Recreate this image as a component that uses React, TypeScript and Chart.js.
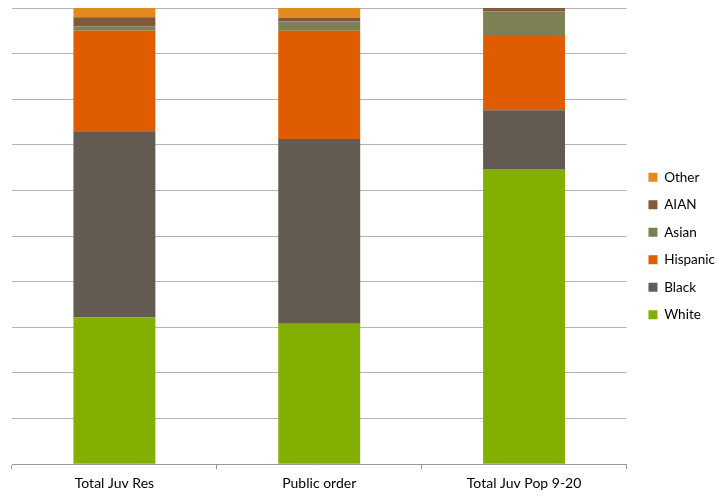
import { useEffect, useRef } from "react";
import { Chart, registerables } from "chart.js";

Chart.register(...registerables);

const categories = ["Total Juv Res", "Public order", "Total Juv Pop 9-20"];
const white = [32.2, 30.8, 64.7];
const black = [40.8, 40.5, 12.9];
const hispanic = [22.0, 23.7, 16.5];
const asian = [0.95, 2.1, 5.2];
const aian = [2.0, 0.7, 0.7];
const other = [2.05, 2.2, 0.0];

const FONT = "Lato, 'Noto Sans', sans-serif";

const shiftLegend = {
  id: "shiftLegend",
  afterLayout(chart: any) {
    const lg = chart.legend;
    if (lg) {
      lg.left += 8;
      lg.right += 8;
      lg.top -= 7;
      lg.bottom -= 7;
    }
  },
};

export default function App() {
  const ref = useRef<HTMLCanvasElement>(null);
  useEffect(() => {
    const chart = new Chart(ref.current!, {
      type: "bar",
      data: {
        labels: categories,
        datasets: [
          { label: "White", data: white, backgroundColor: "#83B000" },
          { label: "Black", data: black, backgroundColor: "#635B51" },
          { label: "Hispanic", data: hispanic, backgroundColor: "#E05C00" },
          { label: "Asian", data: asian, backgroundColor: "#7D8055" },
          { label: "AIAN", data: aian, backgroundColor: "#825A3A" },
          { label: "Other", data: other, backgroundColor: "#E28A1E" },
        ],
      },
      options: {
        animation: false,
        responsive: true,
        maintainAspectRatio: false,
        datasets: { bar: { barPercentage: 0.4, categoryPercentage: 1 } },
        layout: { padding: { left: 12, top: 8, right: 2, bottom: 0 } },
        scales: {
          x: {
            stacked: true,
            grid: {
              display: true,
              drawOnChartArea: false,
              drawTicks: true,
              tickLength: 5,
              color: "#999999",
              offset: true,
            },
            border: { color: "#999999" },
            ticks: { color: "#000", font: { family: FONT, size: 14 }, padding: 6 },
          },
          y: {
            stacked: true,
            min: 0,
            max: 100,
            ticks: { display: false, stepSize: 10 },
            grid: { color: "#B3B3B3", drawTicks: false },
            border: { display: false },
          },
        },
        plugins: {
          legend: {
            position: "right",
            reverse: true,
            labels: {
              boxWidth: 9,
              boxHeight: 9,
              padding: 14,
              color: "#000",
              font: { family: FONT, size: 13.5 },
            },
          },
          tooltip: { enabled: false },
        },
      },
      plugins: [shiftLegend],
    });
    return () => chart.destroy();
  }, []);
  return (
    <div style={{ position: "absolute", left: 0, top: 0, width: 719, height: 498 }}>
      <canvas ref={ref} />
    </div>
  );
}
